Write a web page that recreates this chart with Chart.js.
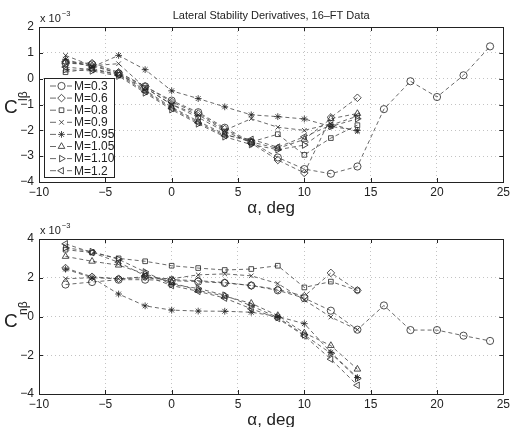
<!DOCTYPE html>
<html><head><meta charset="utf-8">
<script src="https://cdn.jsdelivr.net/npm/chart.js@4/dist/chart.umd.min.js"></script>
<style>
html,body{margin:0;padding:0;background:#fff;}
#wrap{position:relative;width:513px;height:427px;overflow:hidden;background:#fff;}
.box{position:absolute;left:0;width:513px;}
</style></head><body>
<div id="wrap">
<div class="box" style="top:0;height:226px;z-index:1"><canvas id="c1" width="513" height="226"></canvas></div>
<div class="box" style="top:213px;height:214px;z-index:2"><canvas id="c2" width="513" height="214"></canvas></div>
</div>
<script>
// ---------- data (values in units of 1e-3) ----------
const alphaMain = [-8,-6,-4,-2,0,2,4,6,8,10,12,14];
const alphaExt  = [-8,-6,-4,-2,0,2,4,6,8,10,12,14,16,18,20,22,24];
const machLabels = ['M=0.3','M=0.6','M=0.8','M=0.9','M=0.95','M=1.05','M=1.10','M=1.2'];
const xTicks = [-10,-5,0,5,10,15,20,25];
const clTicks = [2,1,0,-1,-2,-3,-4];
const cnTicks = [4,2,0,-2,-4];

// C_l beta
const cl_M03  = [0.6,0.55,0.2,-0.3,-0.85,-1.3,-1.9,-2.45,-3.05,-3.5,-3.68,-3.4,-1.18,-0.1,-0.71,0.13,1.25];
const cl_M06  = [0.65,0.6,0.25,-0.3,-0.9,-1.35,-1.95,-2.5,-3.15,-3.65,-1.5,-0.74];
const cl_M08  = [0.25,0.4,0.15,-0.35,-1.0,-1.5,-2.05,-2.45,-2.15,-2.95,-2.3,-1.8];
const cl_M09  = [0.9,0.5,0.58,-0.35,-1.0,-1.4,-2.0,-1.55,-1.88,-2.0,-1.75,-2.05];
const cl_M095 = [0.75,0.45,0.9,0.35,-0.47,-0.77,-1.09,-1.4,-1.47,-1.56,-1.85,-2.0];
const cl_M105 = [0.65,0.5,0.2,-0.45,-1.1,-1.65,-2.15,-2.45,-2.7,-2.35,-1.55,-1.35];
const cl_M110 = [0.35,0.3,0.1,-0.55,-1.2,-1.75,-2.25,-2.55,-2.75,-2.57,-1.85,-1.55];
const cl_M12  = [0.45,0.35,0.15,-0.5,-1.15,-1.7,-2.2,-2.35,-2.65,-2.25,-1.8,-1.45];

// C_n beta
const cn_M03  = [1.65,1.78,1.9,1.9,1.85,1.8,1.73,1.6,1.35,0.95,0.3,-0.68,0.57,-0.7,-0.7,-0.99,-1.26];
const cn_M06  = [2.5,2.05,1.95,2.05,1.9,1.85,1.75,1.6,1.4,1.05,2.25,1.35];
const cn_M08  = [3.45,3.3,3.0,2.85,2.62,2.5,2.4,2.45,2.62,1.5,1.8,1.35];
const cn_M09  = [1.95,2.0,1.95,2.0,1.95,2.15,2.2,2.1,1.7,0.85,-0.03,-0.68];
const cn_M095 = [2.45,2.0,1.16,0.55,0.33,0.28,0.27,0.22,0.0,-0.37,-1.85,-3.15];
const cn_M105 = [3.1,2.85,2.65,2.2,1.75,1.35,1.05,0.68,0.05,-0.85,-1.5,-2.72];
const cn_M110 = [3.55,3.35,2.95,2.3,1.65,1.45,1.1,0.55,-0.05,-0.95,-1.9,-3.2];
const cn_M12  = [3.75,3.3,2.8,2.1,1.6,1.3,0.95,0.4,-0.1,-1.0,-2.2,-3.55];

const markerStyles = ['circle','rectRot','rect','crossRot','star','triangle','triangle','triangle'];
const markerRot    = [0,0,0,0,0,0,90,-90];
const markerRad    = [3.6,3.8,3.3,3.2,3.4,3.8,3.8,3.8];

const FONT = '"Liberation Sans", Arial, Helvetica, sans-serif';
const INK = '#222';

function pts(xs, ys){ return ys.map((v,i)=>({x:xs[i], y:v})); }
function makeSets(series){
  return series.map((ys,i)=>({
    label: machLabels[i],
    data: pts(i===0 ? alphaExt : alphaMain, ys),
    borderColor:'#444', borderWidth:0.8, borderDash:[4,3],
    pointStyle: markerStyles[i], pointRotation: markerRot[i],
    pointRadius: markerRad[i], pointBorderColor:'#222', pointBorderWidth:0.8,
    pointBackgroundColor:'rgba(255,255,255,0)', backgroundColor:'rgba(255,255,255,0)',
    fill:false, tension:0
  }));
}
function fmt(v){ return v<0 ? '\u2212'+Math.abs(v) : String(v); }

function drawPt(ctx, style, rot, r, x, y){
  const H = Chart.helpers;
  ctx.save();
  ctx.strokeStyle='#222'; ctx.lineWidth=0.8; ctx.fillStyle='rgba(255,255,255,0)';
  ctx.setLineDash([]);
  H.drawPoint(ctx, {pointStyle:style, rotation:rot, radius:r, borderWidth:0.8}, x, y);
  ctx.restore();
}

function decoPlugin(cfg){
  return {
    id:'deco'+cfg.id,
    afterDraw(chart){
      const ctx = chart.ctx, a = chart.chartArea;
      const xs = chart.scales.x, ys = chart.scales.y;
      ctx.save();
      ctx.setLineDash([]);
      ctx.strokeStyle = INK; ctx.lineWidth = 1;
      ctx.strokeRect(Math.round(a.left)+0.5, Math.round(a.top)+0.5, Math.round(a.right-a.left), Math.round(a.bottom-a.top));
      const tl = 4;
      ctx.beginPath();
      xTicks.forEach(v=>{
        const px = Math.round(xs.getPixelForValue(v))+0.5;
        ctx.moveTo(px, a.bottom); ctx.lineTo(px, a.bottom - tl);
        ctx.moveTo(px, a.top); ctx.lineTo(px, a.top + tl);
      });
      cfg.yTicks.forEach(v=>{
        const py = Math.round(ys.getPixelForValue(v))+0.5;
        ctx.moveTo(a.left, py); ctx.lineTo(a.left + tl, py);
        ctx.moveTo(a.right, py); ctx.lineTo(a.right - tl, py);
      });
      ctx.stroke();
      ctx.fillStyle = INK;
      ctx.textBaseline = 'alphabetic'; ctx.textAlign='left';
      ctx.font = '11px '+FONT;
      ctx.fillText('x 10', a.left+1, a.top-5);
      const w = ctx.measureText('x 10').width;
      ctx.font = '7.5px '+FONT;
      ctx.fillText('\u22123', a.left+1+w+1, a.top-11);
      if (cfg.title){
        ctx.font = '11px '+FONT; ctx.textAlign='center';
        ctx.fillText(cfg.title, (a.left+a.right)/2, 19);
      }
      ctx.font = '17px '+FONT; ctx.textAlign='center';
      ctx.fillText('\u03b1, deg', (a.left+a.right)/2, a.bottom+31);
      ctx.textAlign='left';
      ctx.font = '19px '+FONT;
      ctx.fillText('C', 4, cfg.cY);
      ctx.save();
      ctx.translate(27, cfg.cY - 12);
      ctx.rotate(-Math.PI/2);
      ctx.font = '12px '+FONT;
      ctx.fillText(cfg.sub, 0, 0);
      ctx.restore();
      if (cfg.legend){
        const L = 44, T = 78, R = 114, B = 177;
        ctx.fillStyle='#fff';
        ctx.fillRect(L, T, R-L, B-T);
        ctx.strokeStyle=INK; ctx.lineWidth=1;
        ctx.strokeRect(L+0.5, T+0.5, R-L, B-T);
        chart.data.datasets.forEach((ds,i)=>{
          const y = 86 + i*12.1;
          ctx.strokeStyle='#444'; ctx.lineWidth=0.8;
          ctx.beginPath();
          ctx.moveTo(50,y); ctx.lineTo(56,y);
          ctx.moveTo(67,y); ctx.lineTo(72,y);
          ctx.stroke();
          drawPt(ctx, markerStyles[i], markerRot[i], markerRad[i], 61.5, y);
          ctx.fillStyle = INK;
          ctx.font = '12px '+FONT; ctx.textAlign='left'; ctx.textBaseline='middle';
          ctx.fillText(ds.label, 74, y+0.5);
          ctx.textBaseline='alphabetic';
        });
      }
      ctx.restore();
    }
  };
}

function makeChart(id, series, yMin, yMax, yTicks, target, extra){
  const st = { xH: 32, yW: 39 };
  const chart = new Chart(document.getElementById(id), {
    type:'line',
    data:{ datasets: makeSets(series) },
    options:{
      responsive:false, animation:false, devicePixelRatio:1,
      layout:{ padding:{ top: target.top, right: 513-target.right, left:0, bottom:0 } },
      plugins:{ legend:{display:false}, tooltip:{enabled:false}, title:{display:false} },
      scales:{
        x:{ type:'linear', min:-10, max:25,
            afterBuildTicks(s){ s.ticks = xTicks.map(v=>({value:v})); },
            afterFit(s){ s.height = st.xH; },
            ticks:{ callback:fmt, font:{family:FONT,size:12}, color:INK, padding:3, maxRotation:0, autoSkip:false },
            grid:{ color:'#b4b4b4', lineWidth:0.8, drawTicks:false },
            border:{ display:false, dash:[1,3] } },
        y:{ type:'linear', min:yMin, max:yMax,
            afterBuildTicks(s){ s.ticks = yTicks.map(v=>({value:v})); },
            afterFit(s){ s.width = st.yW; },
            ticks:{ callback:fmt, font:{family:FONT,size:12}, color:INK, padding:5, autoSkip:false },
            grid:{ color:'#b4b4b4', lineWidth:0.8, drawTicks:false },
            border:{ display:false, dash:[1,3] } }
      }
    },
    plugins:[ decoPlugin(extra) ]
  });
  // nudge layout so the plot box lands where the reference puts it
  for (let k=0;k<4;k++){
    const a = chart.chartArea;
    const p = chart.options.layout.padding;
    p.top -= (a.top - target.top);
    p.right += (a.right - target.right);
    st.xH += (a.bottom - target.bottom);
    st.yW -= (a.left - target.left);
    chart.update('none');
  }
  return chart;
}

makeChart('c1', [cl_M03,cl_M06,cl_M08,cl_M09,cl_M095,cl_M105,cl_M110,cl_M12],
  -4, 2, clTicks, {left:39, top:27, right:506, bottom:182},
  {id:1, yTicks:clTicks, title:'Lateral Stability Derivatives, 16\u2013FT Data', sub:'l\u03b2', cY:113, legend:true});
makeChart('c2', [cn_M03,cn_M06,cn_M08,cn_M09,cn_M095,cn_M105,cn_M110,cn_M12],
  -4, 4, cnTicks, {left:39, top:26, right:506, bottom:181},
  {id:2, yTicks:cnTicks, title:null, sub:'n\u03b2', cY:114, legend:false});
</script>
</body></html>
